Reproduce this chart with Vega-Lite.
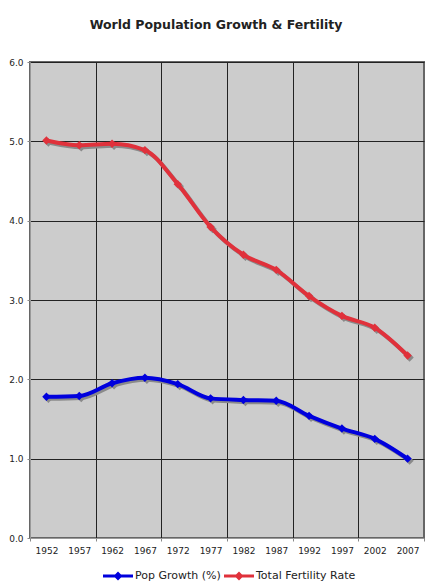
{
  "$schema": "https://vega.github.io/schema/vega-lite/v6.json",
  "autosize": {"type": "none"},
  "width": 394,
  "height": 476,
  "padding": {"left": 30, "top": 62, "right": 8, "bottom": 48},
  "background": "white",
  "title": {"text": "World Population Growth & Fertility", "font": "DejaVu Sans", "fontSize": 12.5, "fontWeight": "bold", "color": "#222222", "anchor": "middle", "dx": -11, "offset": 27},
  "config": {
    "view": {"fill": "#cccccc", "stroke": "#666666", "strokeWidth": 2},
    "axis": {"labelFont": "DejaVu Sans", "labelFontSize": 9, "labelColor": "#222222", "domainColor": "#999999", "tickColor": "#888888", "tickSize": 3, "title": null, "gridColor": "#222222"}
  },
  "resolve": {"axis": {"x": "independent", "y": "independent"}},
  "data": {"values": [
    {"year": 1952, "series": "Pop Growth (%)", "value": 1.78},
    {"year": 1957, "series": "Pop Growth (%)", "value": 1.79},
    {"year": 1962, "series": "Pop Growth (%)", "value": 1.95},
    {"year": 1967, "series": "Pop Growth (%)", "value": 2.02},
    {"year": 1972, "series": "Pop Growth (%)", "value": 1.94},
    {"year": 1977, "series": "Pop Growth (%)", "value": 1.76},
    {"year": 1982, "series": "Pop Growth (%)", "value": 1.74},
    {"year": 1987, "series": "Pop Growth (%)", "value": 1.73},
    {"year": 1992, "series": "Pop Growth (%)", "value": 1.54},
    {"year": 1997, "series": "Pop Growth (%)", "value": 1.38},
    {"year": 2002, "series": "Pop Growth (%)", "value": 1.25},
    {"year": 2007, "series": "Pop Growth (%)", "value": 1.00},
    {"year": 1952, "series": "Total Fertility Rate", "value": 5.01},
    {"year": 1957, "series": "Total Fertility Rate", "value": 4.95},
    {"year": 1962, "series": "Total Fertility Rate", "value": 4.97},
    {"year": 1967, "series": "Total Fertility Rate", "value": 4.89},
    {"year": 1972, "series": "Total Fertility Rate", "value": 4.46},
    {"year": 1977, "series": "Total Fertility Rate", "value": 3.92},
    {"year": 1982, "series": "Total Fertility Rate", "value": 3.57},
    {"year": 1987, "series": "Total Fertility Rate", "value": 3.38},
    {"year": 1992, "series": "Total Fertility Rate", "value": 3.05},
    {"year": 1997, "series": "Total Fertility Rate", "value": 2.80},
    {"year": 2002, "series": "Total Fertility Rate", "value": 2.65},
    {"year": 2007, "series": "Total Fertility Rate", "value": 2.30}
  ]},
  "layer": [
    {"mark": {"type": "line", "interpolate": "monotone", "strokeWidth": 4, "color": "#8a8a8a", "xOffset": 2, "yOffset": 2},
     "encoding": {
       "x": {"field": "year", "type": "ordinal", "bandPosition": 0.5,
         "scale": {"type": "band", "paddingInner": 0, "paddingOuter": 0},
         "axis": {"labelAngle": 0, "tickBand": "extent", "grid": true, "labelPadding": 5,
           "gridColor": {"condition": {"test": "datum.value % 10 == 7 && datum.value < 2007", "value": "#222222"}, "value": "rgba(0,0,0,0)"},
           "tickColor": {"condition": {"test": "datum.value % 10 == 7 || datum.extra", "value": "#888888"}, "value": "rgba(0,0,0,0)"}}},
       "y": {"field": "value", "type": "quantitative",
         "scale": {"domain": [0, 6], "nice": false},
         "axis": {"values": [0, 1, 2, 3, 4, 5, 6], "format": ".1f", "grid": true, "labelPadding": 4}},
       "detail": {"field": "series"}}},
    {"mark": {"type": "point", "shape": "diamond", "filled": true, "size": 70, "opacity": 1, "color": "#8a8a8a", "xOffset": 2, "yOffset": 2},
     "encoding": {
       "x": {"field": "year", "type": "ordinal", "bandPosition": 0.5, "axis": null},
       "y": {"field": "value", "type": "quantitative", "axis": null},
       "detail": {"field": "series"}}},
    {"mark": {"type": "line", "interpolate": "monotone", "strokeWidth": 4},
     "encoding": {
       "x": {"field": "year", "type": "ordinal", "bandPosition": 0.5, "axis": null},
       "y": {"field": "value", "type": "quantitative", "axis": null},
       "color": {"field": "series", "type": "nominal",
       "scale": {"domain": ["Pop Growth (%)", "Total Fertility Rate"], "range": ["#0000dd", "#e0313b"]},
       "legend": {"orient": "none", "legendX": 73, "legendY": 499, "direction": "horizontal", "title": null,
         "symbolType": "M-1,-0.1 L1,-0.1 L1,0.1 L-1,0.1 Z M0,-0.3 L0.3,0 L0,0.3 L-0.3,0 Z",
         "symbolSize": 900, "symbolStrokeWidth": 0, "labelFont": "DejaVu Sans", "labelFontSize": 11, "labelColor": "#222222",
         "labelOffset": 2, "columnPadding": 3, "padding": 0,
         "encode": {"symbols": {"update": {"fill": {"scale": "color", "field": "value"}, "strokeWidth": {"value": 0}, "opacity": {"value": 1}}}}}}}},
    {"mark": {"type": "point", "shape": "diamond", "filled": true, "size": 70, "opacity": 1},
     "encoding": {
       "x": {"field": "year", "type": "ordinal", "bandPosition": 0.5, "axis": null},
       "y": {"field": "value", "type": "quantitative", "axis": null},
       "color": {"field": "series", "type": "nominal",
       "scale": {"domain": ["Pop Growth (%)", "Total Fertility Rate"], "range": ["#0000dd", "#e0313b"]},
       "legend": {"orient": "none", "legendX": 73, "legendY": 499, "direction": "horizontal", "title": null,
         "symbolType": "M-1,-0.1 L1,-0.1 L1,0.1 L-1,0.1 Z M0,-0.3 L0.3,0 L0,0.3 L-0.3,0 Z",
         "symbolSize": 900, "symbolStrokeWidth": 0, "labelFont": "DejaVu Sans", "labelFontSize": 11, "labelColor": "#222222",
         "labelOffset": 2, "columnPadding": 3, "padding": 0,
         "encode": {"symbols": {"update": {"fill": {"scale": "color", "field": "value"}, "strokeWidth": {"value": 0}, "opacity": {"value": 1}}}}}}}}
  ]
}
